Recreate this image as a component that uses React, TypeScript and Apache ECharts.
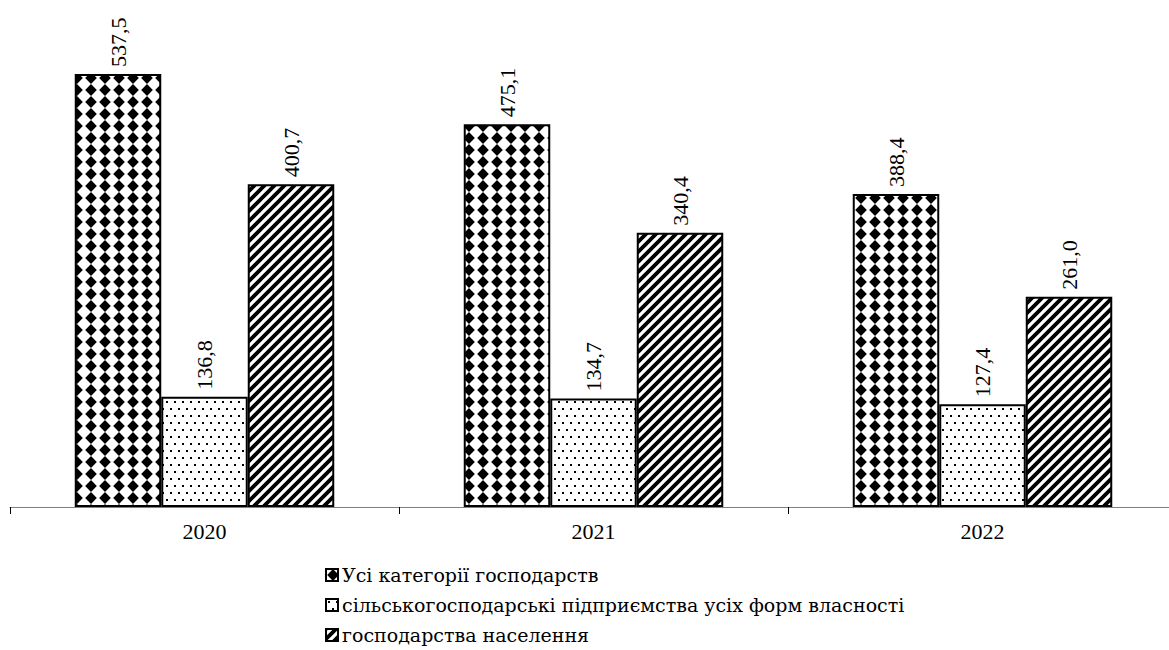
import React, { useEffect, useRef } from "react";
import * as echarts from "echarts";

const categories = ["2020", "2021", "2022"];
const seriesNames = [
  "Усі категорії господарств",
  "сільськогосподарські підприємства усіх форм власності",
  "господарства населення",
];
const allCategories = [537.5, 475.1, 388.4];
const enterprises = [136.8, 134.7, 127.4];
const households = [400.7, 340.4, 261.0];

function makeDiamonds(): string {
  const c = document.createElement("canvas");
  c.width = 14;
  c.height = 12;
  const g = c.getContext("2d")!;
  g.fillStyle = "#fff";
  g.fillRect(0, 0, 14, 12);
  g.fillStyle = "#000";
  g.beginPath();
  g.moveTo(7, 0);
  g.lineTo(12.8, 6);
  g.lineTo(7, 12);
  g.lineTo(1.2, 6);
  g.closePath();
  g.fill();
  return c.toDataURL();
}

function makeDots(): string {
  const c = document.createElement("canvas");
  c.width = 8;
  c.height = 14;
  const g = c.getContext("2d")!;
  g.fillStyle = "#fff";
  g.fillRect(0, 0, 8, 14);
  g.fillStyle = "#000";
  g.fillRect(2, 2, 2, 2);
  g.fillRect(6, 9, 2, 2);
  return c.toDataURL();
}

function makeStripes(): string {
  const s = 10;
  const c = document.createElement("canvas");
  c.width = s;
  c.height = s;
  const g = c.getContext("2d")!;
  g.fillStyle = "#fff";
  g.fillRect(0, 0, s, s);
  g.strokeStyle = "#000";
  g.lineWidth = 3.8;
  g.beginPath();
  g.moveTo(-s, 2 * s);
  g.lineTo(2 * s, -s);
  g.moveTo(-s, s);
  g.lineTo(s, -s);
  g.moveTo(0, 2 * s);
  g.lineTo(2 * s, 0);
  g.stroke();
  return c.toDataURL();
}

const fmt = (v: number) => v.toFixed(1).replace(".", ",");
const FONT = "Liberation Serif, DejaVu Serif, serif";
const LEGEND_FONT = "DejaVu Serif";

export default function App() {
  const ref = useRef<HTMLDivElement>(null);
  useEffect(() => {
    document.body.style.margin = "0";
    document.body.style.overflow = "hidden";
    const chart = echarts.init(ref.current!, undefined, { renderer: "svg" });
    const patterns = [makeDiamonds(), makeDots(), makeStripes()];
    const datas = [allCategories, enterprises, households];
    chart.setOption({
      animation: false,
      backgroundColor: "#fff",
      textStyle: { fontFamily: FONT, color: "#000" },
      grid: { left: 10, width: 1167, top: 23.6, height: 483.4 },
      legend: {
        orient: "vertical",
        left: 325,
        top: 565,
        height: 90,
        padding: 0,
        itemWidth: 12,
        itemHeight: 12,
        itemGap: 10,
        icon: "rect",
        textStyle: { fontFamily: LEGEND_FONT, fontSize: 19, lineHeight: 20, color: "#000", padding: [0, 0, 0, -1] },
        data: seriesNames,
      },
      xAxis: {
        type: "category",
        data: categories,
        axisLine: { lineStyle: { color: "#808080", width: 1 } },
        axisTick: { show: true, length: 7, lineStyle: { color: "#000" } },
        axisLabel: { fontFamily: FONT, fontSize: 22, color: "#000", margin: 13 },
      },
      yAxis: {
        type: "value",
        min: 0,
        max: 600,
        show: false,
        splitLine: { show: false },
      },
      series: seriesNames.map((name, i) => ({
        name,
        type: "bar",
        data: datas[i],
        barWidth: 86.5,
        barGap: "0%",
        itemStyle: {
          color: { image: patterns[i], repeat: "repeat" },
          borderColor: "#000",
          borderWidth: 2,
        },
        label: {
          show: true,
          position: "top",
          rotate: 90,
          align: "left",
          verticalAlign: "middle",
          distance: 7,
          fontFamily: FONT,
          fontSize: 22,
          color: "#000",
          formatter: (p: any) => fmt(p.value),
        },
      })),
    });
    return () => chart.dispose();
  }, []);
  return <div ref={ref} style={{ width: 1180, height: 650 }} />;
}
